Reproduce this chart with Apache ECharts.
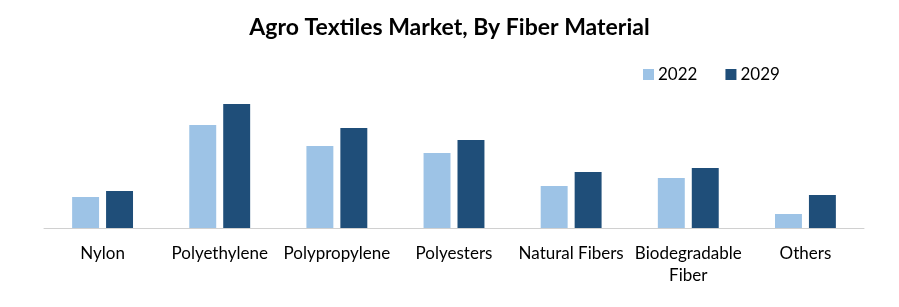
<!DOCTYPE html>
<html><head><meta charset="utf-8">
<script src="https://cdn.jsdelivr.net/npm/echarts@6/dist/echarts.min.js"></script>
<style>html,body{margin:0;padding:0;background:#fff}#c{width:899px;height:307px}</style>
</head><body><div id="c"></div>
<script>
const categories = ['Nylon','Polyethylene','Polypropylene','Polyesters','Natural Fibers','Biodegradable\nFiber','Others'];
const values2022 = [31, 103, 82, 75, 42, 50, 14];
const values2029 = [37, 124, 100, 88, 56, 60, 33];
const seriesNames = ['2022','2029'];
const chart = echarts.init(document.getElementById('c'));
chart.setOption({
  animation: false,
  title: {text: 'Agro Textiles Market, By Fiber Material', left: 'center', top: 11,
    textStyle: {fontFamily: 'Lato', fontWeight: 'bold', fontSize: 23, color: '#000'}},
  legend: {left: 638, top: 61, itemWidth: 11, itemHeight: 11, itemGap: 28, icon: 'rect',
    textStyle: {fontFamily: 'Lato', fontSize: 17, color: '#000', padding: [0,0,0,-1]},
    data: seriesNames},
  grid: {left: 44, right: 35, top: 98, bottom: 79},
  xAxis: {type: 'category', data: categories,
    axisLine: {lineStyle: {color: '#d0d0d0', width: 1}}, axisTick: {show: false},
    axisLabel: {fontFamily: 'Lato', fontSize: 17, color: '#000', margin: 15, lineHeight: 22, interval: 0}},
  yAxis: {type: 'value', min: 0, max: 130, show: false, splitLine: {show: false}},
  series: [
    {name: seriesNames[0], type: 'bar', data: values2022, barWidth: '23%', barGap: '26%', itemStyle: {color: '#9dc3e6'}},
    {name: seriesNames[1], type: 'bar', data: values2029, barWidth: '23%', itemStyle: {color: '#1f4e79'}}
  ]
});
</script></body></html>
